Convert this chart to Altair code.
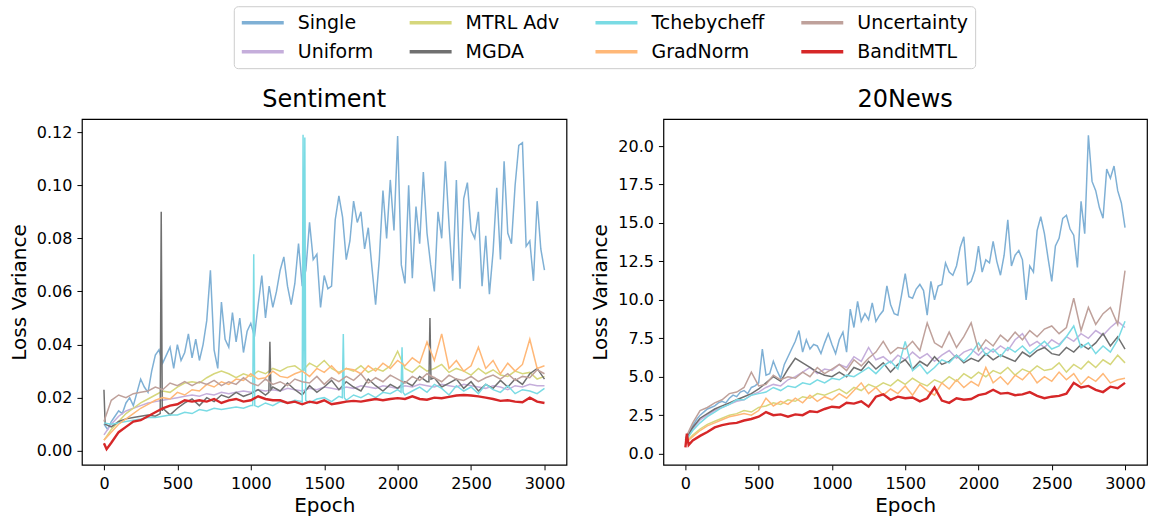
import altair as alt
import numpy as np
import pandas as pd

# ---------------- categories / styling lists ----------------
methods = ["Single", "Uniform", "MTRL Adv", "MGDA", "Tchebycheff", "GradNorm", "Uncertainty", "BanditMTL"]
legend_order = ["Single", "MTRL Adv", "Tchebycheff", "Uncertainty", "Uniform", "MGDA", "GradNorm", "BanditMTL"]
legend_colors = ["#7fb0d5", "#d6d77c", "#7adbe4", "#bfa19b", "#c5aedb", "#707070", "#ffb878", "#d62728"]

x_ticks = [0, 500, 1000, 1500, 2000, 2500, 3000]
sent_y_ticks = [0.0, 0.02, 0.04, 0.06, 0.08, 0.10, 0.12]
news_y_ticks = [0.0, 2.5, 5.0, 7.5, 10.0, 12.5, 15.0, 17.5, 20.0]

# ---------------- Sentiment ----------------
# Single: every 25 epochs (0..3000)
sent_single = [
    0.010, 0.008, 0.011, 0.013, 0.015, 0.014, 0.018, 0.020, 0.017, 0.022,
    0.027, 0.024, 0.022, 0.030, 0.036, 0.038, 0.033, 0.036, 0.039, 0.031,
    0.040, 0.034, 0.037, 0.044, 0.035, 0.042, 0.034, 0.040, 0.049, 0.068,
    0.038, 0.031, 0.056, 0.042, 0.039, 0.052, 0.041, 0.050, 0.037, 0.045,
    0.048, 0.043, 0.055, 0.066, 0.050, 0.062, 0.054, 0.060, 0.068, 0.073,
    0.062, 0.055, 0.063, 0.078, 0.062, 0.068, 0.086, 0.072, 0.074, 0.054,
    0.066, 0.061, 0.062, 0.087, 0.096, 0.088, 0.072, 0.079, 0.094, 0.086,
    0.090, 0.076, 0.084, 0.069, 0.055, 0.072, 0.098, 0.080, 0.102, 0.083,
    0.1185, 0.070, 0.063, 0.100, 0.065, 0.092, 0.078, 0.105, 0.082, 0.070,
    0.060, 0.090, 0.080, 0.109, 0.085, 0.064, 0.102, 0.061, 0.095, 0.101,
    0.083, 0.080, 0.090, 0.062, 0.081, 0.059, 0.075, 0.099, 0.072, 0.109,
    0.082, 0.078, 0.100, 0.115, 0.116, 0.077, 0.079, 0.064, 0.094, 0.076,
    0.068]
# the others: every 50 epochs (0..3000)
sent_uniform = [
    0.006, 0.010, 0.013, 0.015, 0.016, 0.017, 0.018, 0.0185, 0.019, 0.0195,
    0.020, 0.0205, 0.021, 0.0205, 0.0215, 0.021, 0.022, 0.0215, 0.022, 0.0225,
    0.022, 0.023, 0.0225, 0.023, 0.0225, 0.0235, 0.023, 0.0225, 0.0235, 0.023,
    0.024, 0.0235, 0.023, 0.024, 0.0235, 0.0245, 0.024, 0.0235, 0.0245, 0.024,
    0.0235, 0.0245, 0.024, 0.025, 0.0245, 0.024, 0.025, 0.0245, 0.024, 0.025,
    0.0245, 0.024, 0.0235, 0.0245, 0.024, 0.023, 0.0245, 0.024, 0.025, 0.0245,
    0.0245]
sent_mtrl = [
    0.004, 0.008, 0.011, 0.014, 0.016, 0.018, 0.0195, 0.021, 0.0225, 0.022,
    0.024, 0.0255, 0.026, 0.0255, 0.0275, 0.029, 0.030, 0.029, 0.0275, 0.029,
    0.028, 0.030, 0.029, 0.031, 0.030, 0.0315, 0.032, 0.030, 0.033, 0.0315,
    0.034, 0.031, 0.0295, 0.031, 0.030, 0.032, 0.0295, 0.031, 0.030, 0.032,
    0.0375, 0.031, 0.0295, 0.032, 0.030, 0.031, 0.0325, 0.0295, 0.031, 0.030,
    0.0285, 0.031, 0.029, 0.0305, 0.0285, 0.028, 0.030, 0.029, 0.0295, 0.027,
    0.028]
sent_mgda = [
    0.023, 0.009, 0.011, 0.012, 0.0125, 0.013, 0.0135, 0.013, 0.016, 0.0135,
    0.016, 0.018, 0.0195, 0.017, 0.020, 0.0185, 0.021, 0.020, 0.022, 0.0205,
    0.0215, 0.023, 0.021, 0.024, 0.0225, 0.0255, 0.023, 0.021, 0.0245, 0.022,
    0.024, 0.0265, 0.023, 0.026, 0.024, 0.0225, 0.027, 0.0245, 0.0225, 0.025,
    0.0235, 0.026, 0.0245, 0.028, 0.026, 0.0275, 0.024, 0.0255, 0.027, 0.0235,
    0.026, 0.0225, 0.025, 0.0235, 0.0265, 0.024, 0.027, 0.025, 0.029, 0.031,
    0.027]
sent_mgda_spike_epochs = [8, 383, 390, 397, 1123, 1130, 1137, 2213, 2220, 2227]
sent_mgda_spike_values = [0.010, 0.014, 0.090, 0.015, 0.022, 0.041, 0.023, 0.026, 0.050, 0.027]
sent_tcheb = [
    0.0105, 0.010, 0.0105, 0.011, 0.0115, 0.012, 0.0125, 0.0125, 0.013, 0.0135,
    0.0135, 0.0145, 0.014, 0.0155, 0.015, 0.016, 0.0155, 0.016, 0.0165, 0.016,
    0.017, 0.0165, 0.018, 0.017, 0.0185, 0.018, 0.019, 0.0185, 0.018, 0.0195,
    0.020, 0.0185, 0.0205, 0.019, 0.021, 0.020, 0.0215, 0.020, 0.022, 0.0215,
    0.023, 0.021, 0.0225, 0.024, 0.022, 0.025, 0.0235, 0.021, 0.0245, 0.0225,
    0.024, 0.0215, 0.025, 0.023, 0.022, 0.0245, 0.0215, 0.023, 0.0225, 0.0215,
    0.0235]
sent_tcheb_spike_epochs = [1013, 1020, 1027, 1350, 1356, 1362, 1368, 1374,
                           1623, 1630, 1637, 2023, 2030, 2037]
sent_tcheb_spike_values = [0.017, 0.074, 0.017, 0.018, 0.119, 0.030, 0.118, 0.019,
                           0.020, 0.044, 0.020, 0.022, 0.039, 0.022]
sent_gradnorm = [
    0.004, 0.007, 0.010, 0.012, 0.014, 0.016, 0.0175, 0.019, 0.020, 0.0195,
    0.022, 0.021, 0.023, 0.0225, 0.025, 0.024, 0.026, 0.025, 0.027, 0.0265,
    0.029, 0.027, 0.0275, 0.030, 0.028, 0.0275, 0.029, 0.030, 0.028, 0.031,
    0.0295, 0.032, 0.029, 0.031, 0.0305, 0.029, 0.032, 0.030, 0.033, 0.031,
    0.034, 0.032, 0.035, 0.033, 0.041, 0.034, 0.044, 0.031, 0.034, 0.030,
    0.032, 0.039, 0.031, 0.034, 0.029, 0.033, 0.030, 0.0325, 0.042, 0.031,
    0.032]
sent_uncert = [
    0.011, 0.019, 0.021, 0.020, 0.0215, 0.022, 0.0225, 0.024, 0.023, 0.0255,
    0.0245, 0.026, 0.0245, 0.026, 0.025, 0.0265, 0.0245, 0.026, 0.025, 0.0275,
    0.0255, 0.0245, 0.027, 0.025, 0.026, 0.0245, 0.027, 0.026, 0.0255, 0.028,
    0.025, 0.0275, 0.026, 0.028, 0.0265, 0.029, 0.0255, 0.0275, 0.026, 0.0285,
    0.027, 0.0255, 0.028, 0.0265, 0.029, 0.0275, 0.026, 0.0285, 0.027, 0.0265,
    0.028, 0.026, 0.0275, 0.0285, 0.027, 0.029, 0.0265, 0.028, 0.0275, 0.0305,
    0.029]
sent_bandit = [
    0.0028, 0.003, 0.007, 0.009, 0.011, 0.0115, 0.013, 0.0145, 0.016, 0.017,
    0.0175, 0.019, 0.0185, 0.019, 0.0185, 0.0195, 0.018, 0.019, 0.0195, 0.0185,
    0.019, 0.0205, 0.0195, 0.019, 0.019, 0.018, 0.0185, 0.0175, 0.0185, 0.018,
    0.019, 0.0175, 0.018, 0.0185, 0.0188, 0.0185, 0.019, 0.0195, 0.019, 0.0195,
    0.0198, 0.0195, 0.0205, 0.0195, 0.0192, 0.020, 0.0198, 0.0203, 0.0208, 0.021,
    0.0208, 0.0205, 0.020, 0.0195, 0.0188, 0.019, 0.0185, 0.0183, 0.020, 0.0185,
    0.018]
sent_bandit_spike_epochs = [18]
sent_bandit_spike_values = [0.0006]

# ---------------- 20News ----------------
news_single = [
    0.9, 1.3, 1.8, 2.2, 2.5, 2.7, 2.9, 3.0, 3.1, 3.3,
    3.4, 3.3, 3.6, 3.8, 3.7, 4.0, 4.1, 3.9, 4.3, 4.4,
    4.6, 6.8, 5.1, 5.2, 6.0, 5.4, 4.9, 5.8, 6.3, 6.8,
    7.3, 8.0, 6.6, 7.4, 6.8, 7.1, 7.0, 6.5, 7.2, 7.8,
    7.1, 6.5, 7.4, 7.9, 6.6, 9.4, 8.2, 9.9, 8.6, 9.1,
    8.7, 9.8, 8.6, 9.0, 9.3, 10.9, 9.7, 9.1, 9.0, 10.3,
    11.7, 10.2, 10.1, 10.7, 11.0, 10.6, 9.0, 11.2, 10.0, 10.9,
    11.0, 12.4, 11.8, 11.6, 12.2, 13.4, 14.1, 11.0, 11.2, 11.9,
    13.5, 11.8, 12.6, 12.4, 13.8, 12.5, 11.6, 12.9, 15.2, 12.2,
    12.9, 13.2, 12.6, 10.0, 12.2, 11.8, 14.5, 15.4, 14.3, 12.7,
    11.2, 13.5, 14.0, 15.3, 15.5, 14.6, 14.2, 12.1, 16.4, 14.3,
    20.7, 17.7, 17.1, 16.0, 15.3, 18.5, 17.9, 18.7, 17.1, 16.3,
    14.7]
news_uniform = [
    0.9, 1.6, 2.2, 2.5, 2.8, 3.0, 3.2, 3.4, 3.5, 3.8,
    4.0, 4.3, 4.5, 4.4, 4.8, 5.0, 5.3, 5.6, 5.2, 5.5,
    5.4, 5.8, 5.6, 6.3, 6.0, 6.9, 6.1, 6.3, 5.9, 6.4,
    6.1, 6.6, 6.2, 6.5, 6.0, 6.4, 6.7, 6.2, 6.6, 6.8,
    6.4, 6.9, 6.6, 7.0, 6.7, 7.4, 7.8, 7.0, 7.3, 6.9,
    7.4, 7.1, 7.6, 7.3, 7.8, 7.5, 8.0, 7.7, 8.2, 8.6,
    8.2]
news_mtrl = [
    0.7, 1.2, 1.6, 1.9, 2.1, 2.3, 2.5, 2.6, 2.8, 2.7,
    3.0, 3.1, 3.3, 3.2, 3.5, 3.4, 3.7, 3.6, 3.9, 3.8,
    4.0, 4.2, 3.9, 4.3, 4.1, 4.5, 4.3, 4.6, 4.4, 4.8,
    4.5, 4.9, 4.6, 4.4, 4.8, 4.6, 5.0, 4.7, 5.2, 4.9,
    5.3, 5.0, 5.4, 5.2, 5.6, 5.1, 5.5, 5.3, 5.7, 5.4,
    5.5, 5.9, 5.3, 5.8, 5.5, 6.0, 5.6, 6.1, 5.8, 6.4,
    5.9]
news_mgda = [
    0.9, 1.7, 2.3, 2.6, 2.9, 3.1, 3.3, 3.5, 3.7, 3.9,
    4.2, 4.6, 5.0, 4.7, 5.5, 6.2, 5.9, 5.6, 5.3, 5.1,
    5.0, 5.3, 5.0, 5.6, 5.4, 6.0, 5.5, 5.9, 5.3, 5.8,
    6.1, 5.5, 6.0, 5.7, 6.3, 5.8, 6.0, 6.4, 5.9, 6.2,
    6.0, 6.5, 6.1, 6.4, 6.2, 6.0, 6.6, 6.3, 6.7, 6.9,
    6.5, 6.4, 6.9, 6.6, 7.1, 6.8, 7.2, 7.8, 7.0, 7.6,
    6.8]
news_tcheb = [
    0.8, 1.5, 2.0, 2.4, 2.7, 3.0, 3.2, 3.5, 3.5, 3.8,
    3.9, 4.0, 4.3, 4.1, 4.4, 4.3, 4.6, 4.5, 4.8, 4.6,
    4.9, 4.8, 5.1, 5.0, 5.3, 5.6, 5.2, 5.7, 6.0, 5.5,
    7.3, 5.4, 5.8, 5.2, 5.6, 6.1, 5.9, 6.4, 6.0, 6.5,
    7.2, 6.4, 6.8, 6.3, 6.9, 6.6, 7.0, 6.5, 6.9, 7.3,
    6.8, 7.0, 7.6, 8.3, 6.9, 7.2, 6.5, 7.0, 6.6, 7.4,
    8.6]
news_gradnorm = [
    0.7, 1.1, 1.5, 1.8, 2.0, 2.2, 2.4, 2.5, 2.6, 2.5,
    2.8, 3.6, 3.1, 3.4, 3.2, 3.6, 3.3, 3.8, 3.4, 3.7,
    3.5, 3.9, 3.6, 4.1, 4.6, 3.9, 4.3, 3.8, 4.2, 3.9,
    4.4, 3.8, 4.5, 4.1, 3.8, 4.6, 4.2, 4.8, 4.3, 4.7,
    4.4, 5.6, 4.6, 5.0, 4.5, 5.1, 4.8, 5.3, 4.6, 5.0,
    4.7, 5.3, 4.8, 5.2, 4.5, 5.0, 4.7, 5.2, 4.6, 4.8,
    4.9]
news_uncert = [
    1.0, 2.0, 2.8, 3.0, 3.3, 3.5, 3.9, 4.0, 4.3, 5.3,
    4.4, 4.5, 5.1, 4.8, 5.0, 4.9, 5.3, 5.0, 5.6, 5.2,
    5.5, 5.8, 5.4, 6.1, 5.7, 6.2, 6.6, 7.3, 6.5, 6.9,
    6.8, 7.3, 6.7, 8.5, 7.2, 6.9, 7.9, 6.9, 7.6, 8.5,
    6.7, 7.4, 7.0, 7.7, 7.3, 7.9, 7.4, 8.0, 7.6, 8.1,
    8.3, 7.8, 8.2, 10.1, 8.0, 9.5, 8.4, 9.1, 9.5, 8.4,
    11.9]
news_bandit = [
    0.4, 0.85, 1.15, 1.4, 1.7, 1.85, 1.95, 2.0, 2.15, 2.25,
    2.4, 2.7, 2.5, 2.55, 2.4, 2.55, 2.5, 2.75, 2.7, 2.9,
    3.05, 3.0, 3.3, 3.25, 3.4, 3.05, 3.7, 3.85, 3.5, 3.7,
    3.6, 3.65, 3.4, 3.6, 4.3, 3.45, 3.3, 3.6, 3.5, 3.55,
    3.8, 3.9, 4.15, 3.9, 3.95, 3.8, 3.85, 4.0, 3.75, 3.6,
    3.7, 3.75, 3.9, 4.6, 4.3, 4.4, 4.15, 4.0, 4.35, 4.25,
    4.6]
news_bandit_spike_epochs = [10, 22]
news_bandit_spike_values = [1.3, 0.55]


def series_frame(method, values, spike_epochs=(), spike_values=()):
    epochs = list(np.linspace(0, 3000, len(values)))
    df = pd.DataFrame({
        "epoch": epochs + list(spike_epochs),
        "value": list(values) + list(spike_values),
    }).sort_values("epoch")
    df["method"] = method
    return df


sent_df = pd.concat([
    series_frame("Single", sent_single),
    series_frame("Uniform", sent_uniform),
    series_frame("MTRL Adv", sent_mtrl),
    series_frame("MGDA", sent_mgda, sent_mgda_spike_epochs, sent_mgda_spike_values),
    series_frame("Tchebycheff", sent_tcheb, sent_tcheb_spike_epochs, sent_tcheb_spike_values),
    series_frame("GradNorm", sent_gradnorm),
    series_frame("Uncertainty", sent_uncert),
    series_frame("BanditMTL", sent_bandit, sent_bandit_spike_epochs, sent_bandit_spike_values),
], ignore_index=True)

news_df = pd.concat([
    series_frame("Single", news_single),
    series_frame("Uniform", news_uniform),
    series_frame("MTRL Adv", news_mtrl),
    series_frame("MGDA", news_mgda),
    series_frame("Tchebycheff", news_tcheb),
    series_frame("GradNorm", news_gradnorm),
    series_frame("Uncertainty", news_uncert),
    series_frame("BanditMTL", news_bandit, news_bandit_spike_epochs, news_bandit_spike_values),
], ignore_index=True)

FONT = "DejaVu Sans"

legend = alt.Legend(
    orient="none", legendX=152, legendY=-113, columns=4, direction="horizontal",
    title=None, symbolType="stroke", symbolSize=1764, symbolStrokeWidth=3.5,
    symbolOpacity=1, labelFont=FONT, labelFontSize=19, labelColor="black",
    labelOffset=12, labelLimit=0, columnPadding=34, rowPadding=8, padding=6,
    clipHeight=21, gridAlign="each", strokeColor="#cccccc", fillColor="white",
    cornerRadius=4,
)
color = alt.Color("method:N", scale=alt.Scale(domain=legend_order, range=legend_colors), legend=legend)


def panel(df, title, ydomain, yticks, yfmt, width):
    layers = []
    for m in methods:
        sw = 2.4 if m == "BanditMTL" else 1.5
        layers.append(
            alt.Chart(df)
            .transform_filter(alt.datum.method == m)
            .mark_line(strokeWidth=sw, clip=True)
            .encode(
                x=alt.X("epoch:Q", scale=alt.Scale(domain=[-150, 3150], nice=False, zero=False),
                        axis=alt.Axis(values=x_ticks, format="d", title="Epoch")),
                y=alt.Y("value:Q", scale=alt.Scale(domain=ydomain, nice=False, zero=False),
                        axis=alt.Axis(values=yticks, format=yfmt, title="Loss Variance")),
                color=color,
            )
        )
    return alt.layer(*layers).properties(
        width=width, height=346,
        title=alt.TitleParams(title, fontSize=24, font=FONT, fontWeight="normal",
                              offset=7, anchor="middle", color="black"),
    )


left = panel(sent_df, "Sentiment", [-0.0053, 0.1249], sent_y_ticks, ".2f", 485)
right = panel(news_df, "20News", [-0.73, 21.75], news_y_ticks, ".1f", 484)

chart = (
    alt.hconcat(left, right, spacing=97, bounds="flush")
    .resolve_scale(x="independent", y="independent")
    .properties(padding={"left": 8, "top": 5, "right": 3, "bottom": 2}, background="white")
    .configure_view(stroke="black", strokeWidth=1.2)
    .configure_axis(
        domain=False, grid=False, ticks=True, tickColor="black", tickSize=5, tickWidth=1,
        labelFont=FONT, labelFontSize=16, labelColor="black", labelFlush=False,
        titleFont=FONT, titleFontSize=20, titleFontWeight="normal", titleColor="black",
    )
    .configure_axisX(labelPadding=6, titlePadding=4)
    .configure_axisY(labelPadding=5, titlePadding=7)
)

chart.save("out.html", embed_options={"renderer": "svg", "actions": False})
